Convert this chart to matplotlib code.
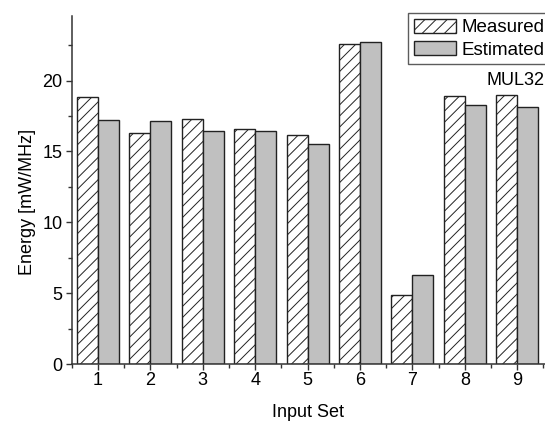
import matplotlib
matplotlib.use("Agg")
import matplotlib.pyplot as plt
import numpy as np
from matplotlib.ticker import MultipleLocator

plt.rcParams['font.family'] = ['Liberation Sans', 'DejaVu Sans']
plt.rcParams['hatch.linewidth'] = 0.7

input_sets = [1, 2, 3, 4, 5, 6, 7, 8, 9]
measured = [18.82, 16.30, 17.29, 16.61, 16.14, 22.61, 4.89, 18.89, 19.01]
estimated = [17.20, 17.12, 16.45, 16.45, 15.51, 22.73, 6.28, 18.26, 18.12]
series_labels = ["Measured", "Estimated"]
panel_label = "MUL32"

fs = 13
fig = plt.figure(figsize=(5.45, 4.23), dpi=100)
ax = fig.add_axes([0.1316, 0.1388, 0.8684, 0.8234])

x = np.array(input_sets, dtype=float)
w = 0.40
edge = "#222222"
ax.bar(x - w / 2, measured, width=w, facecolor="white", edgecolor=edge,
       hatch="///", linewidth=1.0, label=series_labels[0])
ax.bar(x + w / 2, estimated, width=w, facecolor="#c0c0c0", edgecolor=edge,
       linewidth=1.0, label=series_labels[1])

ax.set_xlim(0.5, 9.53)
ax.set_ylim(0, 24.55)
ax.xaxis.set_major_locator(MultipleLocator(1))
ax.xaxis.set_minor_locator(MultipleLocator(0.5))
ax.yaxis.set_major_locator(MultipleLocator(5))
ax.yaxis.set_minor_locator(MultipleLocator(2.5))

for s in ("top", "right"):
    ax.spines[s].set_visible(False)
for s in ("left", "bottom"):
    ax.spines[s].set_color("#333333")
    ax.spines[s].set_linewidth(1.1)

ax.tick_params(which="major", direction="out", length=4.2, width=1.0,
               color="#333333", labelsize=fs)
ax.tick_params(axis="x", which="major", pad=1.5)
ax.tick_params(axis="y", which="major", pad=2.5)
ax.tick_params(which="minor", direction="out", length=3.0, width=1.0,
               color="#333333")

ax.set_xlabel("Input Set", fontsize=fs, labelpad=11)
ax.set_ylabel("Energy [mW/MHz]", fontsize=fs)
ax.yaxis.set_label_coords(-0.076, 0.466)

leg = fig.legend(loc="upper left", bbox_to_anchor=(408 / 545, 1 - 13 / 423),
                 fontsize=13.5, frameon=True, fancybox=False,
                 edgecolor="#333333", handlelength=2.25, handleheight=0.8,
                 handletextpad=0.32, borderpad=0.3, labelspacing=0.25,
                 borderaxespad=0.0)
leg.get_frame().set_linewidth(1.0)

fig.text(1.0, 1 - 80 / 423, panel_label, ha="right", va="center",
         fontsize=fs)

fig.savefig("out.png", dpi=100)
